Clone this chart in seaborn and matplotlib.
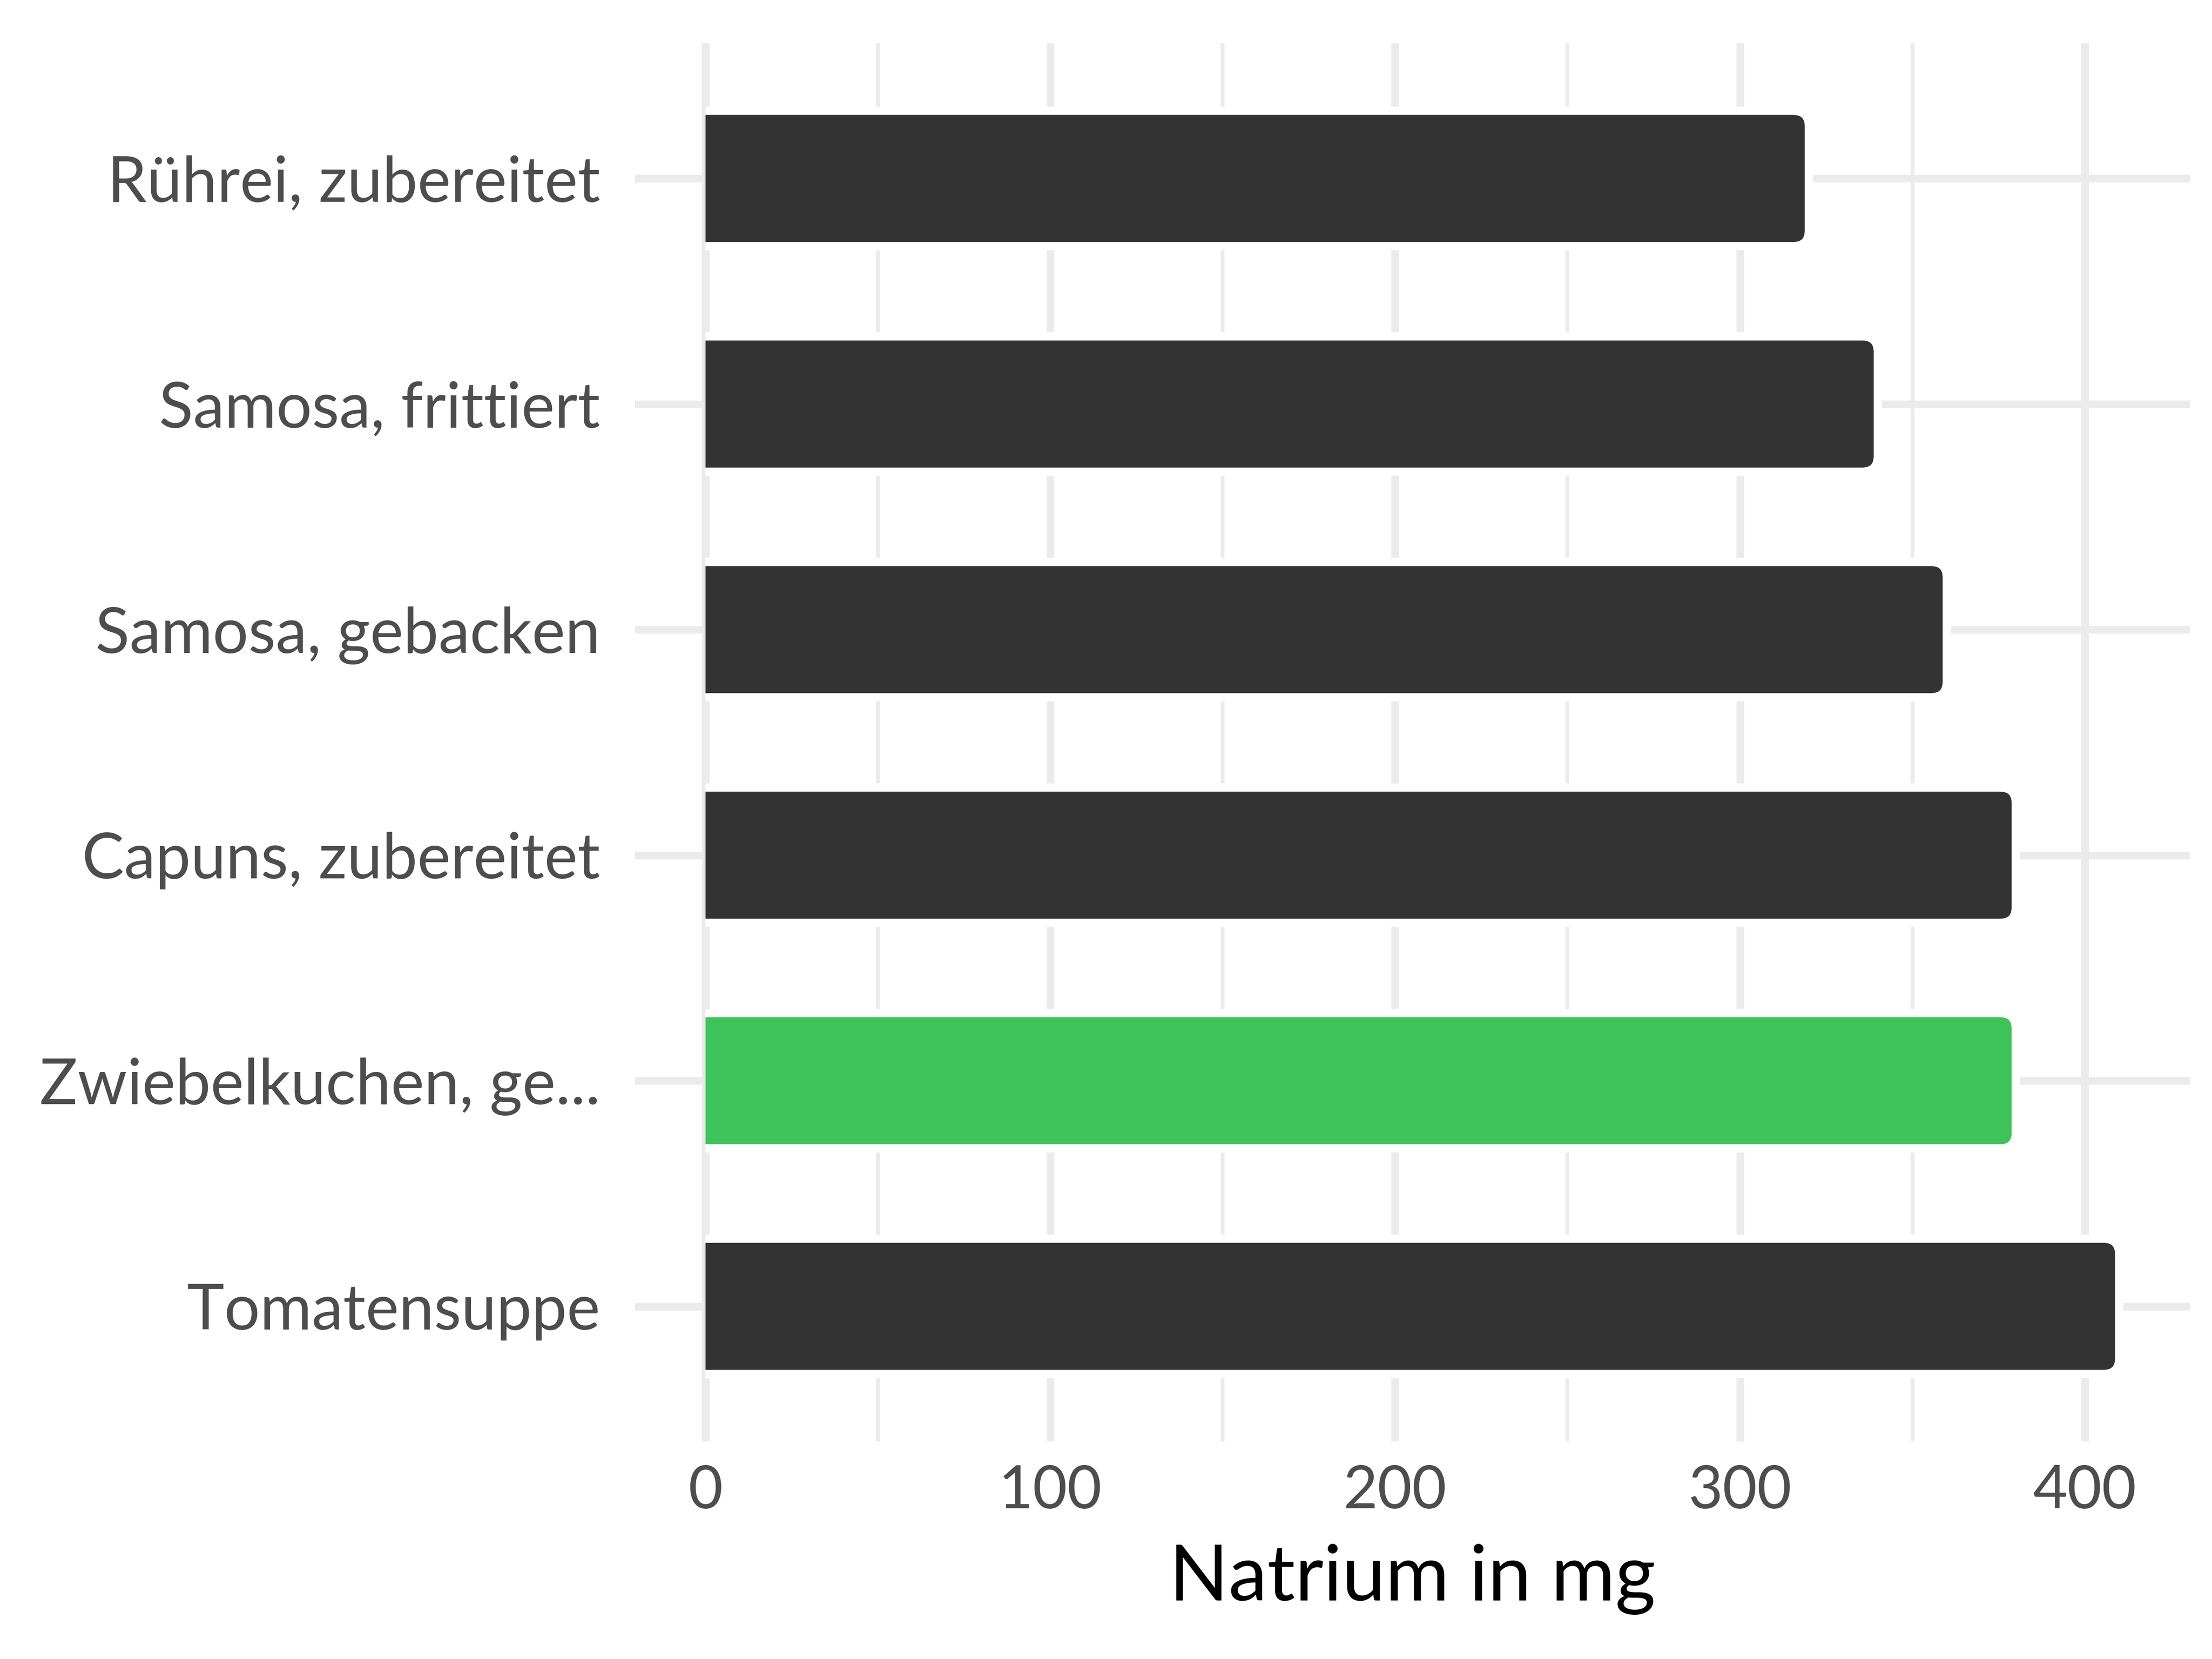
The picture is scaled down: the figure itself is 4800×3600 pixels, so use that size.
import matplotlib
matplotlib.use("Agg")
import matplotlib.pyplot as plt
from matplotlib.patches import FancyBboxPatch, Rectangle
import seaborn as sns
import pandas as pd

# Daten
lebensmittel = [
    "Rührei, zubereitet",
    "Samosa, frittiert",
    "Samosa, gebacken",
    "Capuns, zubereitet",
    "Zwiebelkuchen, ge...",
    "Tomatensuppe",
]
natrium = [320, 340, 360, 380, 380, 410]
farben = ["#333333", "#333333", "#333333", "#333333", "#3EC35A", "#333333"]

df = pd.DataFrame({"Lebensmittel": lebensmittel, "Natrium": natrium})

sns.set_style("white")
plt.rcParams["font.family"] = ["Lato", "DejaVu Sans"]

fig, ax = plt.subplots(figsize=(16, 12), dpi=300)
fig.subplots_adjust(left=0.287, right=0.990, top=0.974, bottom=0.131)

sns.barplot(
    data=df, x="Natrium", y="Lebensmittel", hue="Lebensmittel",
    palette=farben, legend=False, width=0.6, saturation=1, ax=ax, zorder=2,
)

# Balken mit abgerundetem rechten Ende
r = 4.6
aspect = 0.07 / r
for p in list(ax.patches):
    x0, y0, w, h = p.get_x(), p.get_y(), p.get_width(), p.get_height()
    rund = FancyBboxPatch(
        (x0 - r, y0), w + r, h,
        boxstyle=f"round,pad=0,rounding_size={r}",
        mutation_aspect=aspect,
        facecolor=p.get_facecolor(), edgecolor="white",
        linewidth=4.3, zorder=2,
    )
    ax.add_patch(rund)
    rund.set_clip_path(Rectangle((0, -10), 1000, 100, transform=ax.transData))
    p.remove()

ax.set_xlim(-20.5, 430.5)
ax.set_ylim(5.6, -0.6)
ax.set_xticks([0, 100, 200, 300, 400])
ax.set_xticks([50, 150, 250, 350], minor=True)

ax.set_axisbelow(True)
ax.grid(which="major", color="#EBEBEB", linewidth=4)
ax.xaxis.grid(which="minor", color="#EBEBEB", linewidth=2)
for s in ax.spines.values():
    s.set_visible(False)

ax.tick_params(axis="both", which="both", length=0, labelcolor="#4D4D4D")
ax.tick_params(axis="y", pad=18, labelsize=32.8)
ax.tick_params(axis="x", pad=12, labelsize=31)

ax.set_ylabel("")
ax.set_xlabel("Natrium in mg", fontsize=40.5, color="black", labelpad=13)

plt.savefig("out.png", dpi=300)
